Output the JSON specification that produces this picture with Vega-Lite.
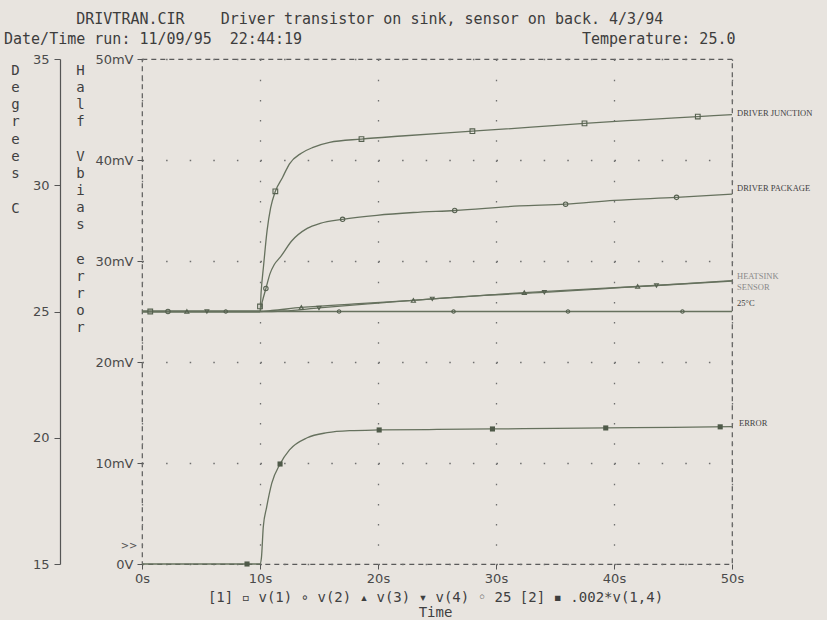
{
  "$schema": "https://vega.github.io/schema/vega-lite/v6.json",
  "width": 590,
  "height": 505,
  "autosize": {"type": "none"},
  "padding": {"left": 142, "top": 59, "right": 95, "bottom": 56},
  "background": "#e8e4df",
  "title": {
    "text": [
      "\u200b\u00a0\u00a0\u00a0\u00a0\u00a0\u00a0\u00a0\u00a0DRIVTRAN.CIR\u00a0\u00a0\u00a0\u00a0Driver transistor on sink, sensor on back. 4/3/94",
      "Date/Time run: 11/09/95\u00a0\u00a022:44:19\u00a0\u00a0\u00a0\u00a0\u00a0\u00a0\u00a0\u00a0\u00a0\u00a0\u00a0\u00a0\u00a0\u00a0\u00a0\u00a0\u00a0\u00a0\u00a0\u00a0\u00a0\u00a0\u00a0\u00a0\u00a0\u00a0\u00a0\u00a0\u00a0\u00a0\u00a0Temperature: 25.0"
    ],
    "anchor": "start",
    "frame": "group",
    "dx": -138,
    "offset": 6,
    "font": "DejaVu Sans Mono",
    "fontSize": 15,
    "fontWeight": "normal",
    "color": "#3d3d3d",
    "lineHeight": 20
  },
  "datasets": {
    "temps": [
      {"s": "v1", "t": 0, "v": 25}, {"s": "v1", "t": 10, "v": 25}, {"s": "v1", "t": 10.1, "v": 25.8}, {"s": "v1", "t": 10.3, "v": 26.8},
      {"s": "v1", "t": 10.6, "v": 28.2}, {"s": "v1", "t": 10.9, "v": 29.1}, {"s": "v1", "t": 11.3, "v": 29.76}, {"s": "v1", "t": 11.9, "v": 30.3},
      {"s": "v1", "t": 12.5, "v": 30.85}, {"s": "v1", "t": 13.5, "v": 31.27}, {"s": "v1", "t": 14.5, "v": 31.5}, {"s": "v1", "t": 15.9, "v": 31.7},
      {"s": "v1", "t": 18.6, "v": 31.83}, {"s": "v1", "t": 22, "v": 31.95}, {"s": "v1", "t": 28, "v": 32.14}, {"s": "v1", "t": 33, "v": 32.3},
      {"s": "v1", "t": 37.5, "v": 32.45}, {"s": "v1", "t": 42, "v": 32.58}, {"s": "v1", "t": 47.1, "v": 32.72}, {"s": "v1", "t": 50, "v": 32.8},
      {"s": "v2", "t": 0, "v": 25}, {"s": "v2", "t": 10, "v": 25}, {"s": "v2", "t": 10.2, "v": 25.4}, {"s": "v2", "t": 10.5, "v": 25.91},
      {"s": "v2", "t": 10.85, "v": 26.5}, {"s": "v2", "t": 11.2, "v": 26.85}, {"s": "v2", "t": 11.7, "v": 27.14}, {"s": "v2", "t": 12.7, "v": 27.8},
      {"s": "v2", "t": 14, "v": 28.29}, {"s": "v2", "t": 15.1, "v": 28.49}, {"s": "v2", "t": 17, "v": 28.65}, {"s": "v2", "t": 19.9, "v": 28.81},
      {"s": "v2", "t": 23, "v": 28.92}, {"s": "v2", "t": 26.5, "v": 29.0}, {"s": "v2", "t": 32, "v": 29.18}, {"s": "v2", "t": 35.9, "v": 29.25},
      {"s": "v2", "t": 40, "v": 29.4}, {"s": "v2", "t": 45.3, "v": 29.52}, {"s": "v2", "t": 50, "v": 29.65},
      {"s": "v3", "t": 0, "v": 25}, {"s": "v3", "t": 10, "v": 25}, {"s": "v3", "t": 11, "v": 25.04}, {"s": "v3", "t": 13.5, "v": 25.16},
      {"s": "v3", "t": 18, "v": 25.3}, {"s": "v3", "t": 23, "v": 25.44}, {"s": "v3", "t": 27, "v": 25.58}, {"s": "v3", "t": 32.4, "v": 25.75},
      {"s": "v3", "t": 37, "v": 25.87}, {"s": "v3", "t": 42, "v": 25.99}, {"s": "v3", "t": 46, "v": 26.1}, {"s": "v3", "t": 50, "v": 26.22},
      {"s": "v4", "t": 0, "v": 25}, {"s": "v4", "t": 10, "v": 25}, {"s": "v4", "t": 12, "v": 25.02}, {"s": "v4", "t": 15, "v": 25.14},
      {"s": "v4", "t": 20, "v": 25.33}, {"s": "v4", "t": 24.6, "v": 25.5}, {"s": "v4", "t": 29, "v": 25.64}, {"s": "v4", "t": 34.1, "v": 25.76},
      {"s": "v4", "t": 39, "v": 25.9}, {"s": "v4", "t": 43.6, "v": 26.03}, {"s": "v4", "t": 50, "v": 26.2},
      {"s": "25", "t": 0, "v": 25}, {"s": "25", "t": 50, "v": 25}
    ],
    "tmarks": [
      {"s": "v1", "t": 0.7, "v": 25}, {"s": "v1", "t": 10.0, "v": 25.2}, {"s": "v1", "t": 11.3, "v": 29.76}, {"s": "v1", "t": 18.6, "v": 31.83},
      {"s": "v1", "t": 28.0, "v": 32.14}, {"s": "v1", "t": 37.5, "v": 32.45}, {"s": "v1", "t": 47.1, "v": 32.72},
      {"s": "v2", "t": 2.2, "v": 25}, {"s": "v2", "t": 10.5, "v": 25.91}, {"s": "v2", "t": 17.0, "v": 28.65}, {"s": "v2", "t": 26.5, "v": 29.0},
      {"s": "v2", "t": 35.9, "v": 29.25}, {"s": "v2", "t": 45.3, "v": 29.52},
      {"s": "v3", "t": 3.8, "v": 25}, {"s": "v3", "t": 13.5, "v": 25.16}, {"s": "v3", "t": 23.0, "v": 25.44}, {"s": "v3", "t": 32.4, "v": 25.75},
      {"s": "v3", "t": 42.0, "v": 25.99},
      {"s": "v4", "t": 5.5, "v": 25}, {"s": "v4", "t": 15.0, "v": 25.14}, {"s": "v4", "t": 24.6, "v": 25.5}, {"s": "v4", "t": 34.1, "v": 25.76},
      {"s": "v4", "t": 43.6, "v": 26.03},
      {"s": "25", "t": 7.1, "v": 25}, {"s": "25", "t": 16.7, "v": 25}, {"s": "25", "t": 26.4, "v": 25}, {"s": "25", "t": 36.1, "v": 25},
      {"s": "25", "t": 45.8, "v": 25}
    ],
    "tlabels": [
      {"label": "DRIVER JUNCTION", "t": 50, "v": 32.86},
      {"label": "DRIVER PACKAGE", "t": 50, "v": 29.88},
      {"label": "HEATSINK", "t": 50, "v": 26.39},
      {"label": "SENSOR", "t": 50, "v": 25.99},
      {"label": "25°C", "t": 50, "v": 25.32}
    ],
    "err": [
      {"t": 0, "mv": 0}, {"t": 10, "mv": 0}, {"t": 10.12, "mv": 0.6}, {"t": 10.28, "mv": 3.7}, {"t": 10.56, "mv": 5.6},
      {"t": 11, "mv": 8.0}, {"t": 11.7, "mv": 9.9}, {"t": 12.5, "mv": 11.3}, {"t": 14, "mv": 12.5}, {"t": 15.7, "mv": 13.0},
      {"t": 17.6, "mv": 13.2}, {"t": 20.1, "mv": 13.27}, {"t": 25, "mv": 13.32}, {"t": 29.7, "mv": 13.37}, {"t": 35, "mv": 13.42},
      {"t": 39.3, "mv": 13.47}, {"t": 45, "mv": 13.53}, {"t": 50, "mv": 13.6}
    ],
    "emarks": [
      {"t": 8.9, "mv": 0}, {"t": 11.7, "mv": 9.9}, {"t": 20.1, "mv": 13.27}, {"t": 29.7, "mv": 13.37}, {"t": 39.3, "mv": 13.47}, {"t": 49.0, "mv": 13.58}
    ],
    "elabels": [
      {"label": "ERROR", "t": 50, "mv": 13.96}
    ],
    "arrows": [
      {"label": ">>", "t": 0, "mv": 1.8}
    ]
  },
  "encoding": {
    "x": {
      "field": "t", "type": "quantitative",
      "scale": {"domain": [0, 50], "nice": false},
      "axis": {
        "values": [0, 10, 20, 30, 40, 50],
        "labelExpr": "datum.value + 's'",
        "grid": true, "gridColor": "#6f6f6f", "gridDash": [1.5, 18.7], "gridWidth": 1.3,
        "domain": false, "tickSize": 5, "labelPadding": 3, "labelFlush": false,
        "title": ["[1] ▫ v(1) ∘ v(2) ▴ v(3) ▾ v(4) ◦ 25 [2] ▪ .002*v(1,4)", "Time"],
        "titleX": 293, "titleY": 26, "titleBaseline": "top", "titleAlign": "center",
        "titleLineHeight": 15, "titleFontSize": 14
      }
    }
  },
  "layer": [
    {
      "encoding": {
        "y": {
          "field": "v", "type": "quantitative",
          "scale": {"domain": [15, 35], "nice": false},
          "axis": {
            "orient": "left", "offset": 82,
            "values": [15, 20, 25, 30, 35],
            "grid": false, "domain": true, "tickSize": 6, "labelPadding": 5,
            "title": ["D", "e", "g", "r", "e", "e", "s", "\u2800", "C"],
            "titleAngle": 0, "titleAlign": "center", "titleBaseline": "top",
            "titleX": -45, "titleY": 4, "titleLineHeight": 17.3
          }
        }
      },
      "layer": [
        {
          "data": {"name": "temps"},
          "mark": {"type": "line", "interpolate": "monotone", "color": "#66715e", "strokeWidth": 1.3},
          "encoding": {
            "detail": {"field": "s"}
          }
        },
        {
          "data": {"name": "tmarks"},
          "mark": {"type": "point", "filled": false, "color": "#55604f", "strokeWidth": 1.1, "opacity": 1},
          "encoding": {
            "shape": {"field": "s", "type": "nominal", "legend": null,
              "scale": {"domain": ["v1", "v2", "v3", "v4", "25"], "range": ["square", "circle", "triangle-up", "triangle-down", "circle"]}},
            "size": {"field": "s", "type": "nominal", "legend": null,
              "scale": {"domain": ["v1", "v2", "v3", "v4", "25"], "range": [22, 12, 24, 24, 36]}}
          }
        },
        {
          "data": {"name": "tlabels"},
          "mark": {"type": "text", "align": "left", "baseline": "middle", "dx": 5, "font": "Liberation Serif", "fontSize": 8.5},
          "encoding": {
            "text": {"field": "label"},
            "color": {"condition": {"test": "datum.label == 'HEATSINK' || datum.label == 'SENSOR'", "value": "#8a8a8a"}, "value": "#3f3f3f"}
          }
        }
      ]
    },
    {
      "encoding": {
        "y": {
          "field": "mv", "type": "quantitative",
          "scale": {"domain": [0, 50], "nice": false},
          "axis": {
            "orient": "left", "offset": 0,
            "values": [0, 10, 20, 30, 40, 50],
            "labelExpr": "datum.value == 0 ? '0V' : datum.value + 'mV'",
            "grid": true, "gridColor": "#6f6f6f", "gridDash": [1.5, 22.1], "gridWidth": 1.3,
            "domain": false, "tickSize": 5, "labelPadding": 4,
            "title": ["H", "a", "l", "f", "\u2800", "V", "b", "i", "a", "s", "\u2800", "e", "r", "r", "o", "r"],
            "titleAngle": 0, "titleAlign": "center", "titleBaseline": "top",
            "titleX": -62, "titleY": 4, "titleLineHeight": 17.2
          }
        }
      },
      "layer": [
        {
          "data": {"name": "err"},
          "mark": {"type": "line", "interpolate": "monotone", "color": "#66715e", "strokeWidth": 1.3},
          "encoding": {}
        },
        {
          "data": {"name": "emarks"},
          "mark": {"type": "point", "shape": "square", "filled": true, "color": "#4f5a49", "size": 26, "opacity": 1},
          "encoding": {}
        },
        {
          "data": {"name": "elabels"},
          "mark": {"type": "text", "align": "left", "baseline": "middle", "dx": 7, "font": "Liberation Serif", "fontSize": 8.5, "color": "#3f3f3f"},
          "encoding": {"text": {"field": "label"}}
        },
        {
          "data": {"name": "arrows"},
          "mark": {"type": "text", "align": "center", "baseline": "middle", "dx": -13, "font": "DejaVu Sans", "fontSize": 10, "color": "#555"},
          "encoding": {"text": {"field": "label"}}
        }
      ]
    }
  ],
  "resolve": {"scale": {"y": "independent"}},
  "config": {
    "view": {"stroke": "#5a5a5a", "strokeDash": [5, 4], "strokeWidth": 1.2},
    "axis": {
      "labelFont": "DejaVu Sans", "labelFontSize": 13, "labelColor": "#4a4a4a",
      "tickColor": "#555", "domainColor": "#555", "domainWidth": 1.2,
      "titleFont": "DejaVu Sans Mono", "titleFontWeight": "normal", "titleFontSize": 14, "titleColor": "#3f3f3f"
    }
  }
}
